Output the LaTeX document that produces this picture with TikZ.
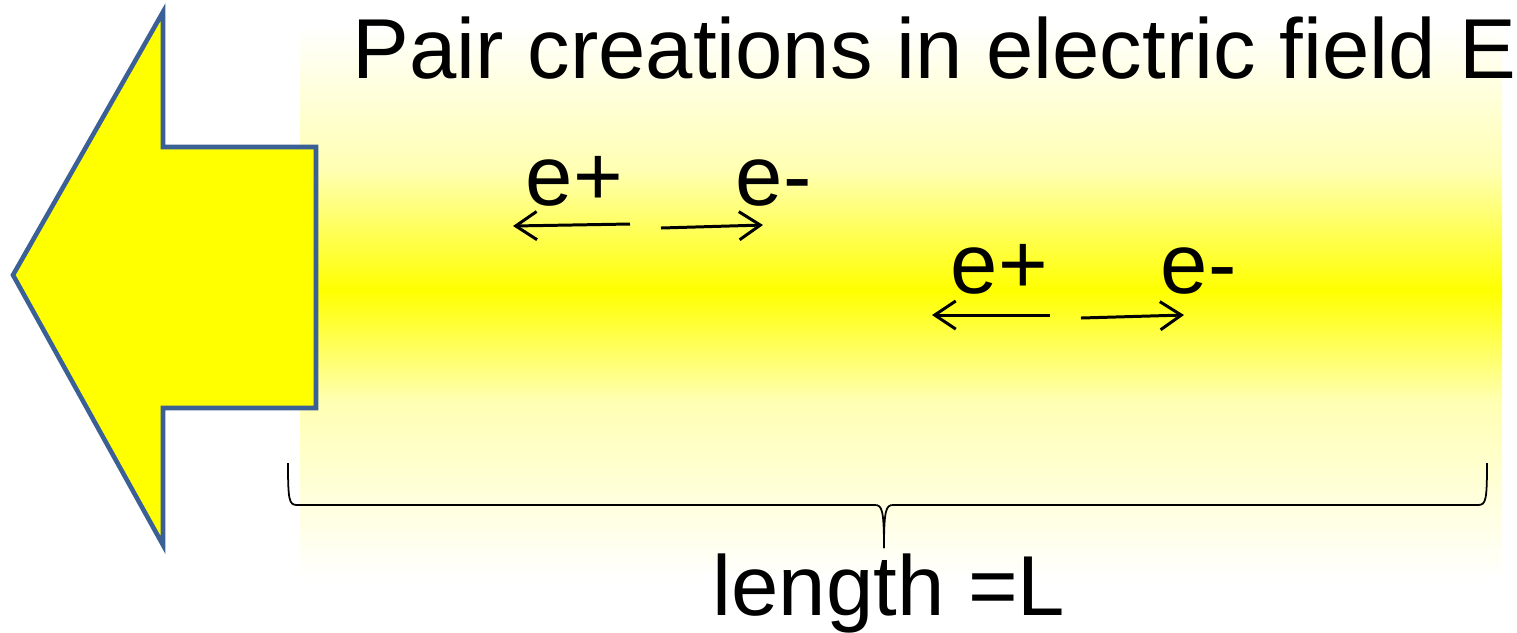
\documentclass[tikz,border=0pt]{standalone}
\usepackage{fontspec}
\setmainfont{Liberation Sans}
\usetikzlibrary{arrows.meta, positioning}
\definecolor{arrowblue}{HTML}{3B6096}
\definecolor{fieldyellow}{RGB}{255,255,0}

\begin{document}
\begin{tikzpicture}[
    x=0.01cm, y=-0.01cm,
    >={Straight Barb[length=6pt, width=8pt]},
    every node/.style={font=\fontsize{24.2}{28}\selectfont, inner sep=0pt, anchor=base west},
    flow/.style={->, line width=0.85pt},
    brace/.style={line width=0.5pt}
]
\useasboundingbox (0,0) rectangle (1517,632);

% Field region
\shade[top color=white, bottom color=fieldyellow!30] (300,25) rectangle (1502,171);
\shade[top color=fieldyellow!30, bottom color=fieldyellow] (300,170) rectangle (1502,291);
\shade[top color=fieldyellow, bottom color=fieldyellow!30] (300,290) rectangle (1502,401);
\shade[top color=fieldyellow!30, bottom color=white] (300,400) rectangle (1502,580);

% Big arrow
\draw[arrowblue, line width=1.3pt, fill=fieldyellow, line join=miter]
  (13,275) -- (163,12) -- (163,147) -- (316,147) -- (316,408) -- (163,408) -- (163,545) -- cycle;

% Nodes
\node (title) at (352,78) {Pair creations in electric field E};
\node (pos1) at (525,205) {e+};
\node (ele1) at (735,205) {e-};
\node (pos2) at (950,293) {e+};
\node (ele2) at (1160,293) {e-};
\node (len) at (712,615) {length =L};

\coordinate (start1l) at (630,224);
\coordinate (end1l) at (513,226);
\coordinate (start1r) at (661,228);
\coordinate (end1r) at (763,225);
\coordinate (start2l) at (1050,315);
\coordinate (end2l) at (932,315);
\coordinate (start2r) at (1081,318);
\coordinate (end2r) at (1184,315);

\coordinate (bl) at (288,463);
\coordinate (br) at (1487,463);
\coordinate (btip) at (884,548);

% Arrows
\draw[flow] (start1l) -- (end1l);
\draw[flow] (start1r) -- (end1r);
\draw[flow] (start2l) -- (end2l);
\draw[flow] (start2r) -- (end2r);

% Brace
\draw[brace] (bl) .. controls (288,500) and (289,505) .. (297,505) -- (875,505)
  .. controls (882,505) and (884,510) .. (btip);
\draw[brace] (br) .. controls (1487,500) and (1486,505) .. (1478,505) -- (893,505)
  .. controls (886,505) and (884,510) .. (btip);

\end{tikzpicture}
\end{document}
